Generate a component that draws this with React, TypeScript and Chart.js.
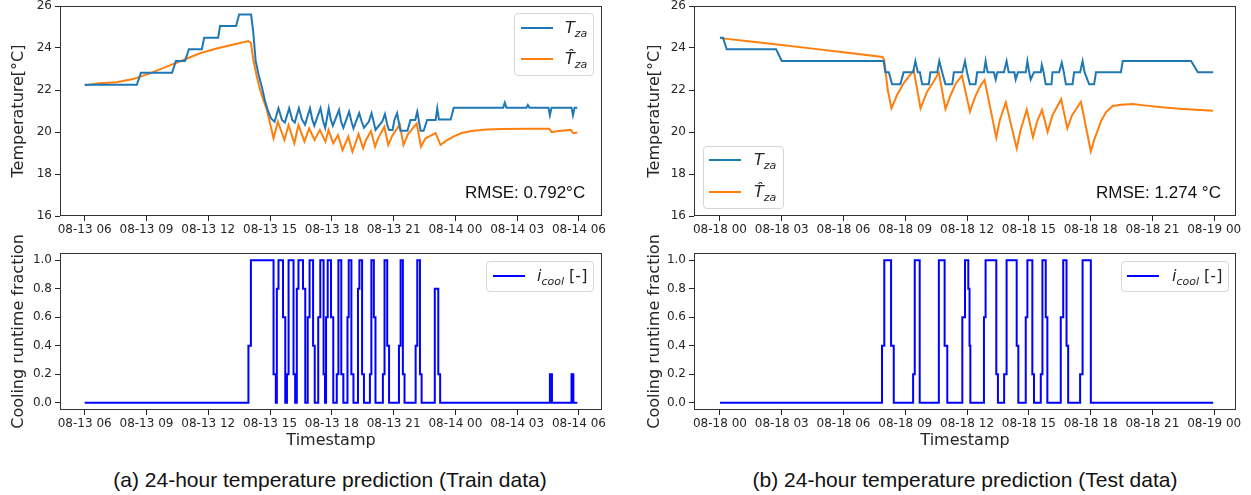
import React, { useEffect, useRef } from "react";
import { Chart, registerables } from "chart.js";

Chart.register(...registerables);

type Pt = [number, number];

// ---------- tick labels ----------
const hourTicks = [0, 3, 6, 9, 12, 15, 18, 21, 24];
const trainTickLabels = ["08-13 06", "08-13 09", "08-13 12", "08-13 15", "08-13 18", "08-13 21", "08-14 00", "08-14 03", "08-14 06"];
const testTickLabels = ["08-18 00", "08-18 03", "08-18 06", "08-18 09", "08-18 12", "08-18 15", "08-18 18", "08-18 21", "08-19 00"];
const tempTicks = [16, 18, 20, 22, 24, 26];
const fracTicks = [0, 0.2, 0.4, 0.6, 0.8, 1.0];

// ---------- train data (hours since 08-13 06:00) ----------
const trainTza: Pt[] = [
  [0, 22.25], [2.53, 22.25], [2.73, 22.82], [4.24, 22.82], [4.43, 23.38], [4.87, 23.38], [5.06, 23.94], [5.69, 23.94],
  [5.8, 24.49], [6.48, 24.49], [6.57, 25.05], [7.35, 25.05], [7.5, 25.59], [8.08, 25.59], [8.18, 24.8], [8.3, 23.4],
  [8.45, 22.7], [8.6, 22.15], [8.75, 21.5], [8.9, 21.0], [9.05, 20.65], [9.22, 20.49],
  [9.41, 21.13], [9.58, 20.57], [9.72, 20.45], [9.93, 21.13], [10.08, 20.57], [10.2, 20.45], [10.4, 21.13], [10.55, 20.6],
  [10.7, 20.35], [10.94, 21.13], [11.05, 20.6], [11.15, 20.3], [11.45, 21.13], [11.58, 20.5], [11.68, 20.2], [11.85, 21.13],
  [11.95, 20.6], [12.05, 20.3], [12.35, 21.05], [12.45, 20.5], [12.56, 20.2], [12.84, 20.97], [12.95, 20.5], [13.05, 20.17],
  [13.33, 20.9], [13.45, 20.5], [13.56, 20.2], [13.8, 20.5], [13.93, 20.9], [14.03, 20.5], [14.12, 20.1], [14.45, 20.5],
  [14.58, 20.85], [14.7, 20.3], [14.78, 20.1], [14.95, 20.1], [15.04, 20.57], [15.17, 20.9], [15.33, 20.06], [15.67, 20.06],
  [15.82, 20.57], [16.05, 20.57], [16.15, 20.97], [16.31, 20.06], [16.46, 20.06], [16.63, 20.57], [17.04, 20.57], [17.12, 21.13],
  [17.2, 20.6], [17.77, 20.6], [17.92, 21.16], [20.32, 21.16], [20.4, 21.4], [20.48, 21.16], [21.45, 21.16], [21.52, 21.29],
  [21.6, 21.16], [22.52, 21.16], [22.59, 20.8], [22.67, 21.16], [23.64, 21.16], [23.71, 20.8], [23.79, 21.16], [23.92, 21.16],
];

const trainTzaHat: Pt[] = [
  [0, 22.22], [0.73, 22.32], [1.54, 22.37], [2.35, 22.52], [3.16, 22.79], [3.98, 23.11], [4.79, 23.43], [5.6, 23.75],
  [6.41, 23.98], [7.22, 24.17], [7.95, 24.33], [8.07, 24.24], [8.19, 23.43], [8.36, 22.63], [8.52, 22.0], [8.68, 21.52],
  [8.85, 21.05], [9.0, 20.41], [9.17, 19.7],
  [9.38, 20.49], [9.7, 19.62], [9.9, 20.33], [10.18, 19.46], [10.38, 20.33], [10.67, 19.54], [10.9, 20.17], [11.16, 19.62],
  [11.42, 20.1], [11.69, 19.54], [11.84, 20.1], [12.07, 19.46], [12.3, 19.86], [12.52, 19.14], [12.8, 19.78], [13.0, 19.06],
  [13.3, 19.9], [13.52, 19.22], [13.65, 19.6], [13.9, 20.05], [14.1, 19.3], [14.25, 19.7], [14.55, 20.25], [14.74, 19.38],
  [14.95, 19.85], [15.3, 20.35], [15.48, 19.38], [15.7, 19.9], [16.12, 20.4], [16.33, 19.3], [16.55, 19.7], [17.04, 19.95],
  [17.28, 19.38], [17.5, 19.55], [17.9, 19.78], [18.3, 19.95], [18.8, 20.05], [19.5, 20.12], [20.3, 20.14], [21.5, 20.16],
  [22.55, 20.16], [22.68, 19.99], [23.0, 20.05], [23.6, 20.1], [23.73, 19.94], [23.92, 19.98],
];

const trainCool: Pt[] = [
  [0, 0], [7.95, 0.4], [8.07, 1], [9.17, 0.2], [9.28, 0], [9.33, 0.8], [9.41, 1], [9.63, 0.6], [9.74, 0], [9.82, 0.2],
  [9.9, 1], [10.14, 0.2], [10.22, 0], [10.3, 0.8], [10.38, 1], [10.6, 0.8], [10.71, 0], [10.83, 0.6], [10.92, 1],
  [11.09, 0.4], [11.17, 0], [11.34, 0.6], [11.44, 1], [11.6, 0.2], [11.67, 0], [11.72, 0.6], [11.8, 1], [11.96, 0.6],
  [12.07, 0], [12.24, 0.2], [12.32, 1], [12.46, 0.2], [12.56, 0], [12.76, 0.6], [12.82, 1], [12.95, 0.2], [13.05, 0],
  [13.27, 0.8], [13.34, 1], [13.47, 0.2], [13.56, 0], [13.85, 0.2], [13.92, 1], [14.04, 0.6], [14.12, 0], [14.48, 0.2],
  [14.56, 1], [14.69, 0.4], [14.78, 0], [15.26, 0.4], [15.34, 1], [15.45, 0.2], [15.53, 0], [16.07, 0.4], [16.15, 1],
  [16.28, 0.2], [16.36, 0], [17.0, 0.8], [17.17, 0.2], [17.26, 0], [22.59, 0.2], [22.69, 0], [23.64, 0.2], [23.73, 0],
  [23.92, 0],
];

// ---------- test data (hours since 08-18 00:00) ----------
const testTza: Pt[] = [
  [0, 24.49], [0.15, 24.49], [0.33, 23.94], [2.73, 23.94], [3.0, 23.38], [7.95, 23.38], [8.03, 22.85], [8.2, 22.85],
  [8.36, 22.27], [8.76, 22.27], [8.92, 22.84], [9.38, 22.84], [9.49, 23.38], [9.61, 22.84], [9.71, 22.84], [9.82, 22.27],
  [10.14, 22.27], [10.22, 22.84], [10.55, 22.84], [10.65, 23.38], [10.79, 22.84], [10.95, 22.27], [11.28, 22.27],
  [11.36, 22.84], [11.77, 22.84], [11.9, 23.38], [12.0, 22.84], [12.14, 22.27], [12.41, 22.27], [12.49, 22.84],
  [12.82, 22.84], [12.9, 23.38], [13.0, 22.84], [13.3, 22.84], [13.39, 22.5], [13.47, 22.84], [13.79, 22.84],
  [13.92, 23.38], [14.02, 22.84], [14.3, 22.84], [14.36, 22.5], [14.47, 22.84], [14.85, 22.84], [14.93, 23.38],
  [15.02, 22.84], [15.09, 22.5], [15.25, 22.84], [15.58, 22.84], [15.63, 23.2], [15.72, 22.84], [15.82, 22.27],
  [16.1, 22.27], [16.15, 22.84], [16.47, 22.84], [16.6, 23.3], [16.7, 22.84], [16.8, 22.27], [17.12, 22.27],
  [17.2, 22.84], [17.49, 22.84], [17.61, 23.38], [17.71, 22.84], [17.93, 22.27], [18.17, 22.27], [18.26, 22.84],
  [19.47, 22.84], [19.56, 23.38], [22.88, 23.38], [23.21, 22.84], [23.95, 22.84],
];

const testTzaHat: Pt[] = [
  [0, 24.47], [1.5, 24.31], [3, 24.14], [4.5, 23.97], [6, 23.8], [7.9, 23.57], [7.98, 23.4], [8.15, 22.0], [8.33, 21.13],
  [8.6, 21.76], [8.92, 22.32], [9.41, 22.95], [9.74, 21.13], [10.06, 21.92], [10.38, 22.4], [10.63, 22.83], [10.95, 21.1],
  [11.2, 21.75], [11.45, 22.3], [11.75, 22.69], [12.14, 20.97], [12.4, 21.7], [12.65, 22.2], [12.85, 22.48], [13.42, 19.73],
  [13.6, 20.6], [13.88, 21.41], [14.41, 19.22], [14.6, 20.1], [14.9, 21.06], [15.2, 19.75], [15.4, 20.5], [15.64, 21.05],
  [15.91, 20.0], [16.15, 20.8], [16.57, 21.56], [16.87, 20.17], [17.1, 20.8], [17.53, 21.44], [18.01, 19.08], [18.2, 19.7],
  [18.5, 20.5], [18.75, 20.95], [19.07, 21.24], [19.5, 21.3], [20.04, 21.33], [20.5, 21.28], [21.58, 21.17], [22.5, 21.1],
  [23.95, 21.01],
];

const testCool: Pt[] = [
  [0, 0], [7.87, 0.4], [7.98, 1], [8.31, 0.4], [8.44, 0], [9.38, 0.2], [9.46, 1], [9.7, 0], [10.63, 1], [10.91, 0.4],
  [11.04, 0], [11.77, 0.6], [11.9, 1], [12.06, 0.8], [12.12, 0.4], [12.16, 0], [12.82, 0.6], [12.9, 1], [13.42, 0.2],
  [13.5, 0], [13.8, 0.2], [13.92, 1], [14.41, 0.4], [14.49, 0], [14.85, 0.6], [14.93, 1], [15.17, 0.2], [15.25, 0],
  [15.58, 0.2], [15.66, 1], [15.82, 0.6], [15.9, 0], [16.55, 0.6], [16.67, 1], [16.83, 0.4], [16.91, 0], [17.49, 0.2],
  [17.61, 1], [18.01, 0], [23.95, 0],
];

// ---------- styling ----------
const FONT = "'DejaVu Sans', sans-serif";
const INK = "#262626";
const BLUE = "#1f77b4";
const ORANGE = "#ff7f0e";
const COOL = "#0000ff";

const framePlugin = {
  id: "frame",
  afterDraw(chart: any) {
    const { ctx, chartArea } = chart;
    const l = Math.round(chartArea.left) + 0.5;
    const t = Math.round(chartArea.top) + 0.5;
    const r = Math.round(chartArea.right) - 0.5;
    const b = Math.round(chartArea.bottom) - 0.5;
    ctx.save();
    ctx.strokeStyle = "#333333";
    ctx.lineWidth = 1;
    ctx.strokeRect(l, t, r - l, b - t);
    ctx.restore();
  },
};

interface Series {
  data: Pt[];
  color: string;
  stepped?: boolean;
}

interface PanelProps {
  left: number;
  top: number;
  width: number;
  height: number;
  padTop: number;
  kind: "temp" | "cool";
  series: Series[];
  tickLabels: string[];
  xMin: number;
  xMax: number;
  yTitlePad: number;
}

function Panel(p: PanelProps) {
  const ref = useRef<HTMLCanvasElement>(null);
  useEffect(() => {
    const isTemp = p.kind === "temp";
    const tickFont = { family: FONT, size: 12 };
    const titleFont = { family: FONT, size: 16 };
    const chart = new Chart(ref.current as HTMLCanvasElement, {
      type: "line",
      data: {
        datasets: p.series.map((s) => ({
          data: s.data.map(([x, y]) => ({ x, y })),
          borderColor: s.color,
          backgroundColor: s.color,
          borderWidth: 2,
          pointRadius: 0,
          fill: false,
          tension: 0,
          stepped: s.stepped ? "before" : false,
        })),
      } as any,
      options: {
        animation: false,
        responsive: false,
        events: [],
        layout: { padding: { top: p.padTop, right: p.width - 60 - 542, bottom: 0, left: 0 } },
        plugins: { legend: { display: false }, tooltip: { enabled: false } },
        scales: {
          x: {
            type: "linear",
            min: p.xMin,
            max: p.xMax,
            afterBuildTicks: (s: any) => {
              s.ticks = hourTicks.map((v) => ({ value: v }));
            },
            afterFit: (s: any) => {
              s.height = isTemp ? 24 : 40;
            },
            ticks: {
              autoSkip: false,
              maxRotation: 0,
              minRotation: 0,
              padding: 2,
              color: INK,
              font: tickFont,
              callback: (_v: any, i: number) => p.tickLabels[i] ?? "",
            },
            grid: { drawOnChartArea: false, drawTicks: true, tickLength: 5, color: INK },
            border: { display: false },
            title: isTemp
              ? { display: false }
              : { display: true, text: "Timestamp", color: INK, font: titleFont, padding: { top: 0, bottom: 0 } },
          },
          y: {
            type: "linear",
            min: isTemp ? 16 : -0.05,
            max: isTemp ? 26 : 1.05,
            afterBuildTicks: (s: any) => {
              s.ticks = (isTemp ? tempTicks : fracTicks).map((v) => ({ value: v }));
            },
            afterFit: (s: any) => {
              s.width = 60;
            },
            ticks: {
              padding: 3,
              color: INK,
              font: tickFont,
              callback: (v: any) => (isTemp ? String(v) : Number(v).toFixed(1)),
            },
            grid: { drawOnChartArea: false, drawTicks: true, tickLength: 5, color: INK },
            border: { display: false },
            title: {
              display: true,
              text: isTemp ? "Temperature[°C]" : "Cooling runtime fraction",
              color: INK,
              font: titleFont,
              padding: { top: p.yTitlePad, bottom: 0 },
            },
          },
        },
      } as any,
      plugins: [framePlugin],
    });
    return () => chart.destroy();
  }, []);
  return (
    <canvas
      ref={ref}
      width={p.width}
      height={p.height}
      style={{ position: "absolute", left: p.left, top: p.top, width: p.width, height: p.height, display: "block" }}
    />
  );
}

interface LegendEntry {
  color: string;
  label: React.ReactNode;
}

function Legend(props: { left: number; top: number; width: number; height: number; lineLeft: number; lineYs: number[]; textLeft: number; entries: LegendEntry[] }) {
  return (
    <div
      style={{
        position: "absolute",
        left: props.left,
        top: props.top,
        width: props.width,
        height: props.height,
        boxSizing: "border-box",
        border: "1px solid #d6d6d6",
        borderRadius: 4,
        background: "rgba(255,255,255,0.85)",
      }}
    >
      {props.entries.map((e, i) => (
        <React.Fragment key={i}>
          <div
            style={{
              position: "absolute",
              left: props.lineLeft,
              top: props.lineYs[i] - 1,
              width: 32,
              height: 2,
              background: e.color,
            }}
          />
          <div
            style={{
              position: "absolute",
              left: props.textLeft,
              top: props.lineYs[i] - 11,
              height: 22,
              lineHeight: "22px",
              fontFamily: FONT,
              fontSize: 16,
              color: INK,
              whiteSpace: "nowrap",
            }}
          >
            {e.label}
          </div>
        </React.Fragment>
      ))}
    </div>
  );
}

const subStyle: React.CSSProperties = { fontSize: 11, fontStyle: "italic", verticalAlign: "-4px" };
const tLabel = (
  <span>
    <i>T</i>
    <span style={subStyle}>za</span>
  </span>
);
const tHatLabel = (
  <span>
    <i>{"T\u0302"}</i>
    <span style={subStyle}>za</span>
  </span>
);
const coolLabel = (
  <span>
    <i>i</i>
    <span style={subStyle}>cool</span>
    <span> [-]</span>
  </span>
);

function TextAt(props: { left: number; centerY: number; size: number; text: string; width?: number; align?: "left" | "center" }) {
  return (
    <div
      style={{
        position: "absolute",
        left: props.left,
        top: props.centerY - 14,
        height: 28,
        lineHeight: "28px",
        width: props.width,
        textAlign: props.align ?? "left",
        fontFamily: "'Liberation Sans', Arial, sans-serif",
        fontSize: props.size,
        color: "#111",
        whiteSpace: "nowrap",
      }}
    >
      {props.text}
    </div>
  );
}

export default function App() {
  return (
    <div
      style={{
        position: "absolute",
        left: 0,
        top: 0,
        width: 1251,
        height: 495,
        overflow: "hidden",
        background: "#fff",
      }}
    >
      <Panel
        left={0}
        top={-6}
        width={625}
        height={246}
        padTop={12}
        kind="temp"
        series={[
          { data: trainTza, color: BLUE },
          { data: trainTzaHat, color: ORANGE },
        ]}
        tickLabels={trainTickLabels}
        xMin={-1.2}
        xMax={25.12}
        yTitlePad={9}
      />
      <Panel
        left={0}
        top={226}
        width={625}
        height={224}
        padTop={27}
        kind="cool"
        series={[{ data: trainCool, color: COOL, stepped: true }]}
        tickLabels={trainTickLabels}
        xMin={-1.2}
        xMax={25.12}
        yTitlePad={9}
      />
      <Panel
        left={634}
        top={-6}
        width={615}
        height={246}
        padTop={12}
        kind="temp"
        series={[
          { data: testTza, color: BLUE },
          { data: testTzaHat, color: ORANGE },
        ]}
        tickLabels={testTickLabels}
        xMin={-1.26}
        xMax={25.06}
        yTitlePad={11}
      />
      <Panel
        left={634}
        top={226}
        width={615}
        height={224}
        padTop={27}
        kind="cool"
        series={[{ data: testCool, color: COOL, stepped: true }]}
        tickLabels={testTickLabels}
        xMin={-1.26}
        xMax={25.06}
        yTitlePad={11}
      />

      <Legend
        left={514}
        top={13}
        width={80}
        height={63}
        lineLeft={6}
        lineYs={[14, 45]}
        textLeft={50}
        entries={[
          { color: BLUE, label: tLabel },
          { color: ORANGE, label: tHatLabel },
        ]}
      />
      <Legend
        left={486}
        top={261}
        width={108}
        height={31}
        lineLeft={6}
        lineYs={[14]}
        textLeft={50}
        entries={[{ color: COOL, label: coolLabel }]}
      />
      <Legend
        left={703}
        top={146}
        width={81}
        height={63}
        lineLeft={5}
        lineYs={[13, 45]}
        textLeft={50}
        entries={[
          { color: BLUE, label: tLabel },
          { color: ORANGE, label: tHatLabel },
        ]}
      />
      <Legend
        left={1121}
        top={261}
        width={108}
        height={31}
        lineLeft={5}
        lineYs={[14]}
        textLeft={50}
        entries={[{ color: COOL, label: coolLabel }]}
      />

      <TextAt left={465} centerY={193} size={17} text="RMSE: 0.792°C" />
      <TextAt left={1096} centerY={193} size={17} text="RMSE: 1.274 °C" />
      <TextAt left={10} width={640} align="center" centerY={480} size={21} text="(a) 24-hour temperature prediction (Train data)" />
      <TextAt left={645} width={640} align="center" centerY={480} size={21} text="(b) 24-hour temperature prediction (Test data)" />
    </div>
  );
}
